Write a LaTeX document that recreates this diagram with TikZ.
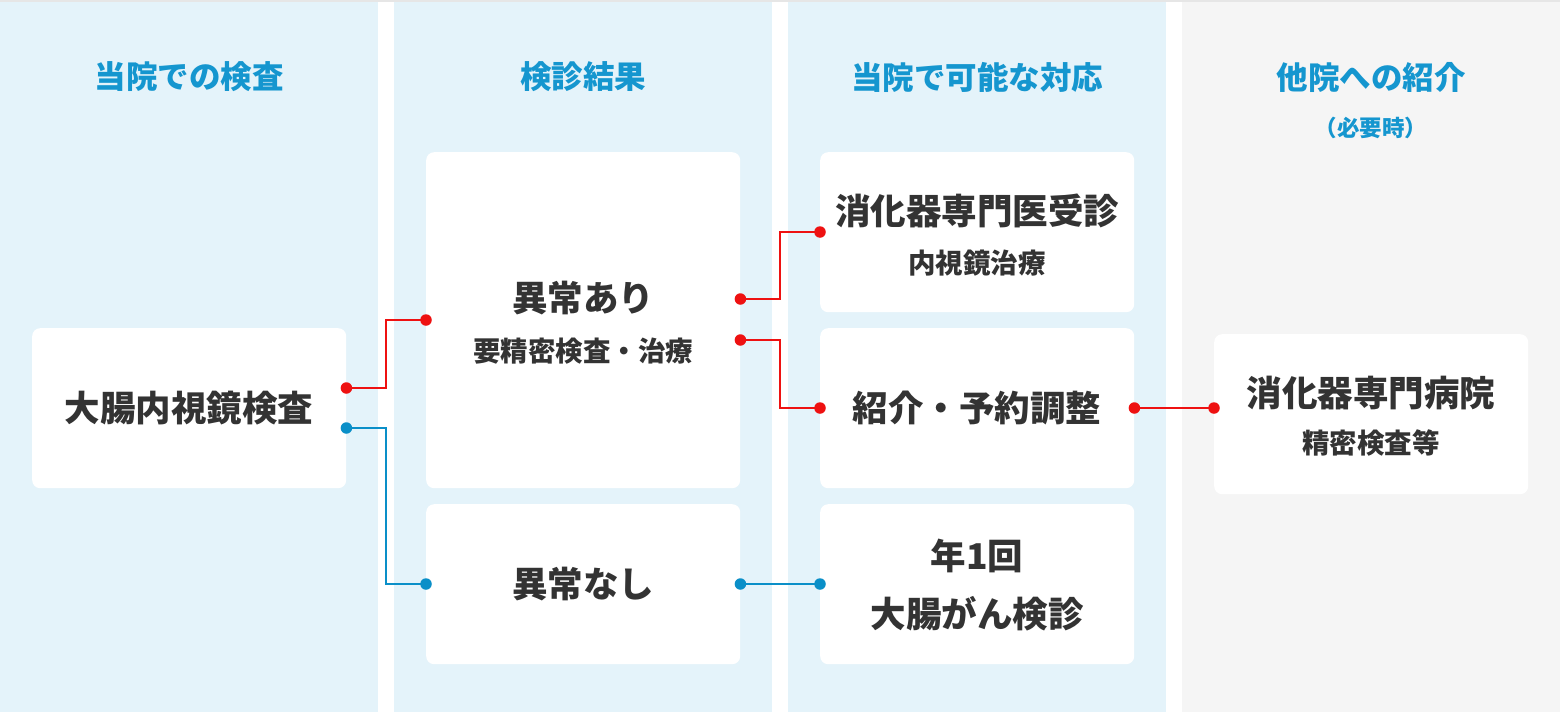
\documentclass[tikz,border=0pt]{standalone}
\usepackage{fontspec}
\setmainfont{Noto Sans CJK JP}
\definecolor{colbg}{HTML}{E4F3FA}
\definecolor{greybg}{HTML}{F5F5F5}
\definecolor{topline}{HTML}{E6E6E6}
\definecolor{headblue}{HTML}{1596CF}
\definecolor{txt}{HTML}{333333}
\definecolor{linered}{HTML}{EE1111}
\definecolor{lineblue}{HTML}{0A8FC8}
\tikzset{
  box/.style={fill=white, rounded corners=8pt, minimum width=314pt, inner sep=0pt, anchor=north west},
  head/.style={text=headblue, font=\fontsize{31.5}{36}\selectfont\bfseries, inner sep=0pt},
  sub/.style={text=headblue, font=\fontsize{22.5}{26}\selectfont\bfseries, inner sep=0pt},
  big/.style={text=txt, font=\fontsize{35.5}{42}\selectfont\bfseries, inner sep=0pt},
  small/.style={text=txt, font=\fontsize{27.5}{32}\selectfont\bfseries, inner sep=0pt},
  redline/.style={draw=linered, line width=2pt},
  blueline/.style={draw=lineblue, line width=2pt},
  reddot/.style={circle, fill=linered, minimum size=11.5pt, inner sep=0pt},
  bluedot/.style={circle, fill=lineblue, minimum size=11.5pt, inner sep=0pt}
}
\begin{document}
\begin{tikzpicture}[x=1pt,y=-1pt]
\useasboundingbox (0,0) rectangle (1560,712);
\fill[white] (0,0) rectangle (1560,712);
% columns
\fill[colbg] (0,0) rectangle (378,712);
\fill[colbg] (394,0) rectangle (772,712);
\fill[colbg] (788,0) rectangle (1166,712);
\fill[greybg] (1182,0) rectangle (1560,712);
\fill[topline] (0,0) rectangle (1560,2);
% headers
\node[head] (h1) at (189,77) {当院での検査};
\node[head] (h2) at (583,77) {検診結果};
\node[head] (h3) at (977,77) {当院で可能な対応};
\node[head] (h4) at (1371,77) {他院への紹介};
\node[sub] (h4s) at (1371,128) {（必要時）};
% boxes
\node[box, minimum height=160pt] (a) at (32,328) {};
\node[box, minimum height=336pt] (b1) at (426,152) {};
\node[box, minimum height=160pt] (b2) at (426,504) {};
\node[box, minimum height=160pt] (c1) at (820,152) {};
\node[box, minimum height=160pt] (c2) at (820,328) {};
\node[box, minimum height=160pt] (c3) at (820,504) {};
\node[box, minimum height=160pt] (d) at (1214,334) {};
% texts
\node[big] (ta) at (189,408) {大腸内視鏡検査};
\node[big] (tb1) at (583,298) {異常あり};
\node[small] (tb1s) at (583,351) {要精密検査・治療};
\node[big] (tb2) at (583,584) {異常なし};
\node[big] (tc1) at (977,211) {消化器専門医受診};
\node[small] (tc1s) at (977,263) {内視鏡治療};
\node[big] (tc2) at (977,408) {紹介・予約調整};
\node[big] (tc3) at (977,556) {年1回};
\node[big] (tc3b) at (977,614) {大腸がん検診};
\node[big] (td) at (1371,393) {消化器専門病院};
\node[small] (tds) at (1371,443) {精密検査等};
% connector ends
\coordinate (a1) at (a.east |- 0,388);
\coordinate (a2) at (a.east |- 0,428);
\coordinate (b1in) at (b1.west |- 0,320);
\coordinate (b2in) at (b2.west |- 0,584);
\coordinate (b1o1) at (b1.east |- 0,299);
\coordinate (b1o2) at (b1.east |- 0,340);
\coordinate (b2o) at (b2.east |- 0,584);
\coordinate (c1in) at (c1.west |- 0,232);
\coordinate (c2in) at (c2.west |- 0,408);
\coordinate (c3in) at (c3.west |- 0,584);
\coordinate (c2o) at (c2.east |- 0,408);
\coordinate (din) at (d.west |- 0,408);
% connectors
\draw[redline] (a1) -- (386,388) -- (386,320) -- (b1in);
\draw[blueline] (a2) -- (386,428) -- (386,584) -- (b2in);
\draw[redline] (b1o1) -- (780,299) -- (780,232) -- (c1in);
\draw[redline] (b1o2) -- (780,340) -- (780,408) -- (c2in);
\draw[blueline] (b2o) -- (c3in);
\draw[redline] (c2o) -- (din);
% dots
\foreach \p in {a1,b1in,b1o1,b1o2,c1in,c2in,c2o,din}
  \node[reddot] at (\p) {};
\foreach \p in {a2,b2in,b2o,c3in}
  \node[bluedot] at (\p) {};
\end{tikzpicture}
\end{document}
